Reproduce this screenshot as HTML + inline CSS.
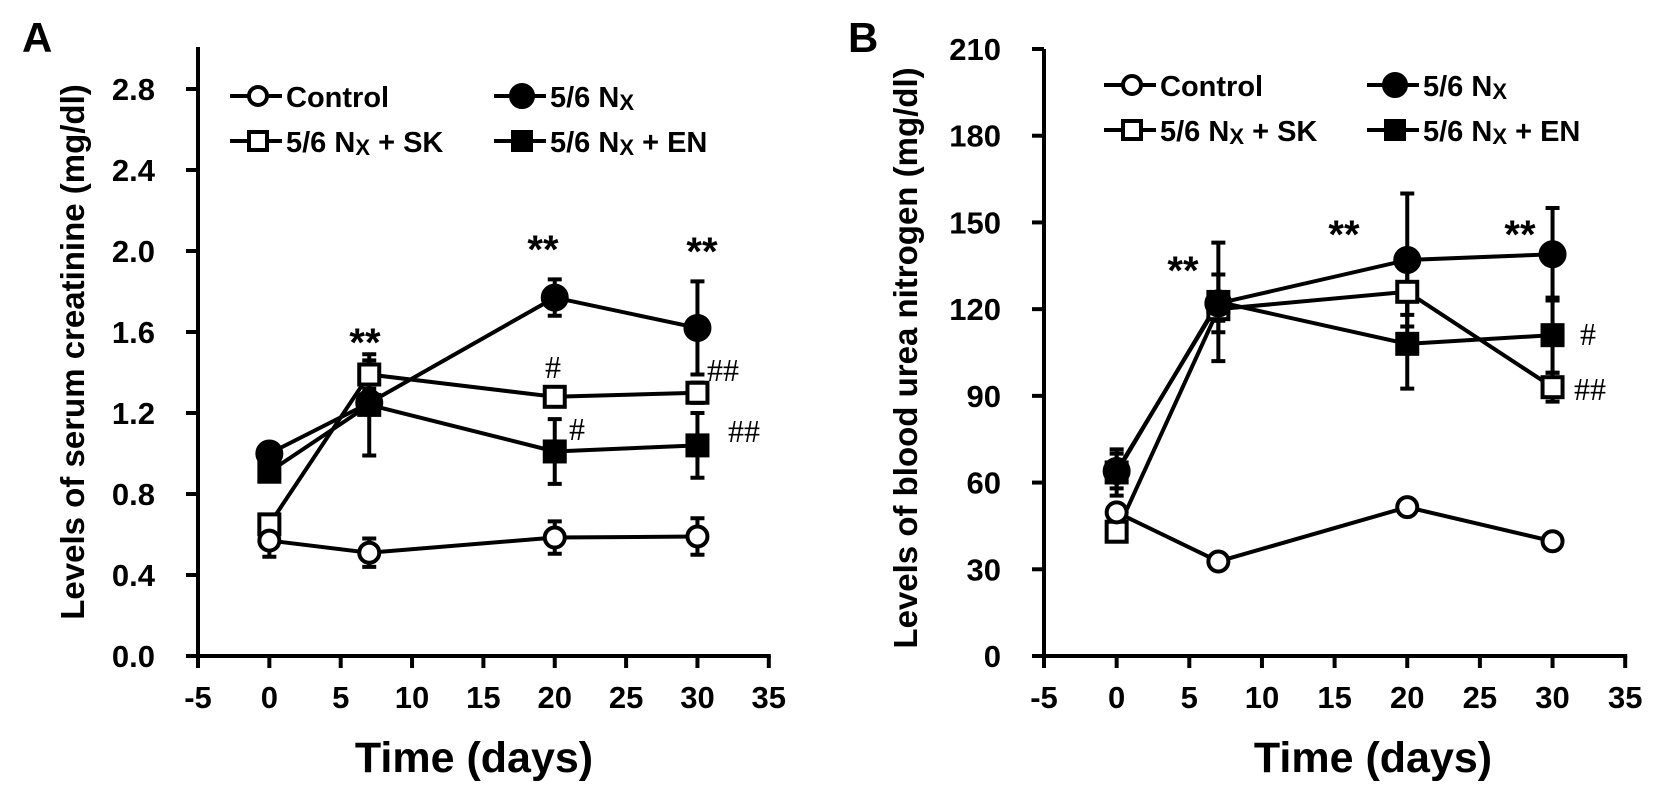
<!DOCTYPE html>
<html><head><meta charset="utf-8"><style>
html,body{margin:0;padding:0;background:#fff}
svg{display:block}
text{font-family:"Liberation Sans",Arial,sans-serif;font-weight:bold;fill:#000}
.hash{font-family:"Liberation Serif",serif;font-weight:normal}
</style></head><body>
<svg id="fig" width="1654" height="792" viewBox="0 0 1654 792" xmlns="http://www.w3.org/2000/svg"></svg>
<script>
const days = [0, 7, 20, 30];
const seriesNames = ["Control", "5/6 Nx", "5/6 Nx + SK", "5/6 Nx + EN"];
const crControl = [0.57, 0.51, 0.585, 0.59];
const crControlErr = [0.08, 0.07, 0.08, 0.09];
const crNx = [1.0, 1.25, 1.77, 1.62];
const crNxErr = [0.05, 0.05, 0.09, 0.23];
const crSK = [0.65, 1.39, 1.28, 1.30];
const crSKErr = [0.04, 0.07, 0.04, 0.05];
const crEN = [0.91, 1.24, 1.01, 1.04];
const crENErr = [0.04, 0.25, 0.16, 0.16];
const bunControl = [49.7, 32.7, 51.5, 39.7];
const bunControlErr = [2, 2, 2, 2];
const bunNx = [64, 122, 137, 139];
const bunNxErr = [6, 10, 23, 16];
const bunSK = [43, 120, 126, 93];
const bunSKErr = [3, 4, 8, 5];
const bunEN = [63.5, 122.5, 108, 111];
const bunENErr = [8, 20.5, 15.5, 13];
const xTicks = [-5, 0, 5, 10, 15, 20, 25, 30, 35];
const crTicks = ["0.0", "0.4", "0.8", "1.2", "1.6", "2.0", "2.4", "2.8"];
const bunTicks = ["0", "30", "60", "90", "120", "150", "180", "210"];

const NS = "http://www.w3.org/2000/svg";
const svg = document.getElementById("fig");
function mk(tag, attrs, parent) {
  const e = document.createElementNS(NS, tag);
  for (const k in attrs) e.setAttribute(k, attrs[k]);
  (parent || svg).appendChild(e);
  return e;
}

function panel(cfg) {
  const g = mk("g", {});
  
  
  const X = d => cfg.x0 + (d - (-5)) * cfg.pxPerDay;
  const Y = v => cfg.y0 - v * cfg.pxPerUnit;
  const ya = mk("line", {x1: cfg.x0, y1: cfg.yTop, x2: cfg.x0, y2: cfg.y0 + 2, stroke: "#000", "stroke-width": 4}, g);
  
  
  const xa = mk("line", {x1: cfg.x0 - 12, y1: cfg.y0, x2: X(35) + 2, y2: cfg.y0, stroke: "#000", "stroke-width": 4}, g);
  
  
  xTicks.forEach(t => {
    mk("line", {x1: X(t), y1: cfg.y0, x2: X(t), y2: cfg.y0 + 12, stroke: "#000", "stroke-width": 4}, g);
    const tx = mk("text", {x: X(t), y: cfg.y0 + 52, "text-anchor": "middle", "font-size": 31}, g);
    tx.textContent = t;
    
    
  });
  cfg.ticks.forEach((lab, i) => {
    const v = i * cfg.tickStep;
    mk("line", {x1: cfg.x0 - 12, y1: Y(v), x2: cfg.x0, y2: Y(v), stroke: "#000", "stroke-width": 4}, g);
    const tx = mk("text", {x: cfg.x0 - 43, y: Y(v) + 11, "text-anchor": "end", "font-size": 31}, g);
    tx.textContent = lab;
    
    
  });
  const yt = mk("text", {x: 0, y: 0, "text-anchor": "middle", "font-size": 33, transform: `translate(${cfg.yTitleX},${cfg.yTitleY}) rotate(-90)`}, g);
  yt.textContent = cfg.yTitle;
  
  
  const xt = mk("text", {x: cfg.xTitleX, y: 772, "text-anchor": "middle", "font-size": 43}, g);
  xt.textContent = "Time (days)";
  
  
  const pl = mk("text", {x: cfg.letterX, y: 52, "font-size": 42}, g);
  pl.textContent = cfg.letter;
  
  

  const marks = ["circle-open", "circle-filled", "square-open", "square-filled"];
  const order = [3, 2, 1, 0];
  cfg.series.forEach((s, si) => {
    s.vals.forEach((v, i) => {
      const x = X(days[i]), yt2 = Y(v + s.err[i]), yb = Y(v - s.err[i]);
      const eb = mk("path", {d: `M${x},${yt2}V${yb}M${x-7},${yt2}H${x+7}M${x-7},${yb}H${x+7}`, stroke: "#000", "stroke-width": 4, fill: "none"}, g);
      
      
    });
  });
  cfg.series.forEach((s, si) => {
    const pts = s.vals.map((v, i) => X(days[i]) + "," + Y(v)).join(" ");
    const ln = mk("polyline", {points: pts, stroke: "#000", "stroke-width": 4, fill: "none"}, g);
    
    
  });
  order.forEach(si => {
    const s = cfg.series[si];
    s.vals.forEach((v, i) => {
      const x = X(days[i]), y = Y(v);
      let m;
      if (marks[si].startsWith("circle")) {
        m = mk("circle", {cx: x, cy: y, r: si === 0 ? 10 : 12, fill: si === 1 ? "#000" : "#fff", stroke: "#000", "stroke-width": 4}, g);
      } else {
        m = mk("rect", {x: x - 10, y: y - 10, width: 20, height: 20, fill: si === 3 ? "#000" : "#fff", stroke: "#000", "stroke-width": 4}, g);
      }
      
      
    });
  });
  cfg.annots.forEach(a => {
    const t = mk("text", {x: a[0], y: a[1], "text-anchor": "middle", "font-size": a[3] ? 40 : 32, class: a[3] ? "" : "hash"}, g);
    t.textContent = a[2];
    
    
  });
  const lg = mk("g", {}, g);
  
  
  const cols = [cfg.legX, cfg.legX2];
  const rows = [cfg.legY, cfg.legY + 45];
  const pos = [[0,0],[1,0],[0,1],[1,1]];
  seriesNames.forEach((n, si) => {
    const cx = cols[pos[si][0]], cy = rows[pos[si][1]];
    const e = mk("g", {}, lg);
    
    
    mk("line", {x1: cx - 28, y1: cy, x2: cx + 24, y2: cy, stroke: "#000", "stroke-width": 4}, e);
    if (si < 2) mk("circle", {cx: cx, cy: cy, r: si === 0 ? 9 : 11, fill: si === 1 ? "#000" : "#fff", stroke: "#000", "stroke-width": 4}, e);
    else mk("rect", {x: cx - 9, y: cy - 9, width: 18, height: 18, fill: si === 3 ? "#000" : "#fff", stroke: "#000", "stroke-width": 4}, e);
    const t = mk("text", {x: cx + 28, y: cy + 11, "font-size": 29}, e);
    if (si === 0) t.textContent = "Control";
    else {
      const a = mk("tspan", {}, t); a.textContent = "5/6 ";
      const b = mk("tspan", {"font-size": 29}, t); b.textContent = "N";
      const c = mk("tspan", {"font-size": 22, dy: 3}, t); c.textContent = "X";
      if (si > 1) { const d = mk("tspan", {dy: -3}, t); d.textContent = si === 2 ? "  + SK" : "  + EN"; }
    }
  });
}

panel({id: "creatinine", letter: "A", letterX: 22, x0: 198, pxPerDay: 14.27, y0: 656, yTop: 47, pxPerUnit: 202.5, tickStep: 0.4,
  ticks: crTicks, yTitle: "Levels of serum creatinine (mg/dl)", yTitleX: 84, yTitleY: 352, xTitleX: 474,
  series: [{vals: crControl, err: crControlErr}, {vals: crNx, err: crNxErr}, {vals: crSK, err: crSKErr}, {vals: crEN, err: crENErr}],
  annots: [[365, 356, "**", 1], [543, 263, "**", 1], [702, 265, "**", 1], [553, 378, "#"], [577, 440, "#"], [723, 381, "##"], [744, 442, "##"]],
  legX: 258, legX2: 522, legY: 96});
panel({id: "bun", letter: "B", letterX: 848, x0: 1044, pxPerDay: 14.53, y0: 656, yTop: 49, pxPerUnit: 607 / 210, tickStep: 30,
  ticks: bunTicks, yTitle: "Levels of blood urea nitrogen (mg/dl)", yTitleX: 917, yTitleY: 358, xTitleX: 1373,
  series: [{vals: bunControl, err: bunControlErr}, {vals: bunNx, err: bunNxErr}, {vals: bunSK, err: bunSKErr}, {vals: bunEN, err: bunENErr}],
  annots: [[1183, 284, "**", 1], [1344, 248, "**", 1], [1520, 248, "**", 1], [1588, 345, "#"], [1590, 400, "##"]],
  legX: 1132, legX2: 1395, legY: 85});
</script>
</body></html>
